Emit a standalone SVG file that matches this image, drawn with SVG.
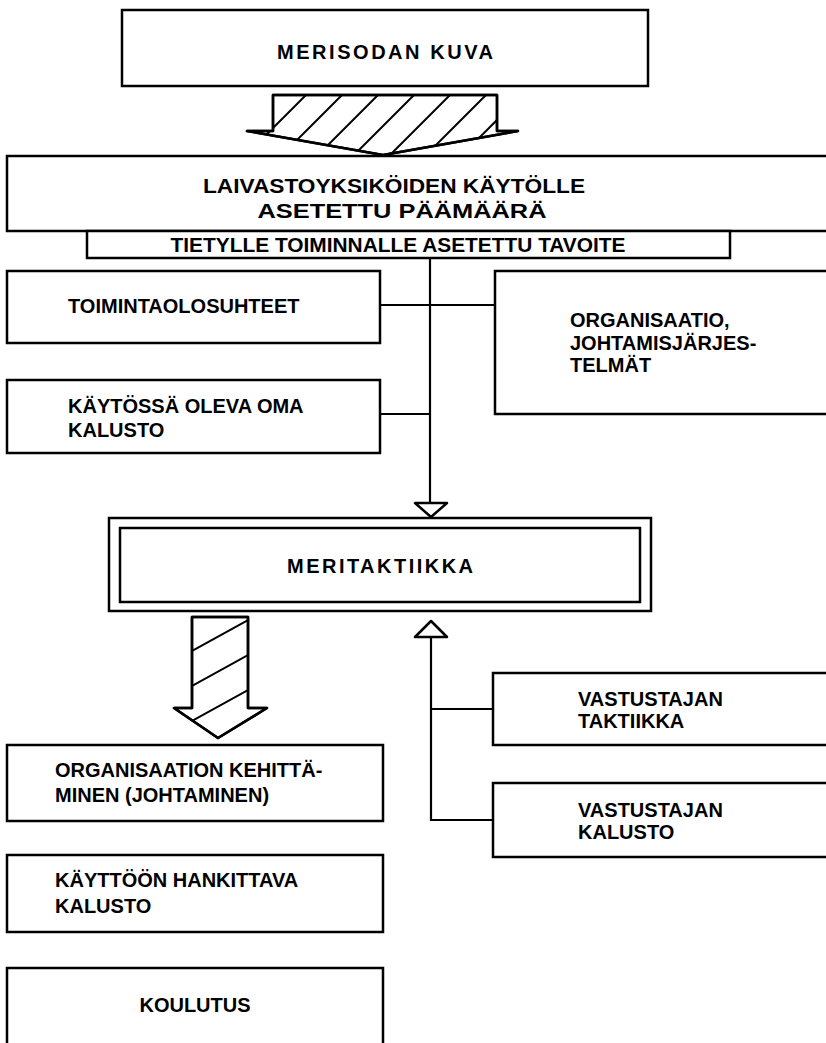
<svg xmlns="http://www.w3.org/2000/svg" width="826" height="1043" viewBox="0 0 826 1043">
<style>
.box{fill:#fff;stroke:#000;stroke-width:2.5}
.ln{fill:none;stroke:#000;stroke-width:2.2}
.t{font-family:"Liberation Sans",Arial,sans-serif;font-weight:bold;font-size:20px;fill:#000}
.c{text-anchor:middle}
.hatch{stroke:#000;stroke-width:2}
.arr{fill:#fff;stroke:#000;stroke-width:2.5;stroke-linejoin:round}
</style>
<defs>
<clipPath id="clipA1"><polygon points="273,95 497,95 497,131 518,131 383,155 247,131 273,131"/></clipPath>
<clipPath id="clipA2"><polygon points="192,617 248,617 248,708 267,708 218,738 174,708 192,708"/></clipPath>
</defs>
<rect width="826" height="1043" fill="#fff"/>

<g id="connectors">
<line class="ln" x1="430" y1="258" x2="430" y2="503"/>
<polygon class="arr" points="415,503 447,503 431,517"/>
<line class="ln" x1="380" y1="305" x2="495" y2="305"/>
<line class="ln" x1="380" y1="414" x2="430" y2="414"/>
<line class="ln" x1="431" y1="637" x2="431" y2="821"/>
<polygon class="arr" points="415,637 447,637 431,621"/>
<line class="ln" x1="431" y1="709" x2="493" y2="709"/>
<line class="ln" x1="431" y1="820" x2="493" y2="820"/>
<g id="hatched-arrow-1">
<polygon class="arr" points="273,95 497,95 497,131 518,131 383,155 247,131 273,131"/>
<g clip-path="url(#clipA1)">
<line class="hatch" x1="200" y1="165" x2="275" y2="90"/>
<line class="hatch" x1="236" y1="165" x2="311" y2="90"/>
<line class="hatch" x1="272" y1="165" x2="347" y2="90"/>
<line class="hatch" x1="308" y1="165" x2="383" y2="90"/>
<line class="hatch" x1="344" y1="165" x2="419" y2="90"/>
<line class="hatch" x1="380" y1="165" x2="455" y2="90"/>
<line class="hatch" x1="416" y1="165" x2="491" y2="90"/>
<line class="hatch" x1="452" y1="165" x2="527" y2="90"/>
<line class="hatch" x1="488" y1="165" x2="563" y2="90"/>
</g>
<polygon points="273,95 497,95 497,131 518,131 383,155 247,131 273,131" fill="none" stroke="#000" stroke-width="2.5" stroke-linejoin="round"/>
</g>
<g id="hatched-arrow-2">
<polygon class="arr" points="192,617 248,617 248,708 267,708 218,738 174,708 192,708"/>
<g clip-path="url(#clipA2)">
<line class="hatch" x1="170" y1="628" x2="270" y2="573"/>
<line class="hatch" x1="170" y1="663" x2="270" y2="608"/>
<line class="hatch" x1="170" y1="698" x2="270" y2="643"/>
<line class="hatch" x1="170" y1="733" x2="270" y2="678"/>
<line class="hatch" x1="170" y1="768" x2="270" y2="713"/>
<line class="hatch" x1="170" y1="803" x2="270" y2="748"/>
</g>
<polygon points="192,617 248,617 248,708 267,708 218,738 174,708 192,708" fill="none" stroke="#000" stroke-width="2.5" stroke-linejoin="round"/>
</g>
</g>

<g id="merisodan-kuva">
<rect class="box" x="122" y="10" width="526" height="76"/>
<text class="t c" x="385" y="59" textLength="216" lengthAdjust="spacing">MERISODAN KUVA</text>
</g>

<g id="laivastoyksikoiden">
<rect class="box" x="7" y="156" width="840" height="75"/>
<text class="t c" x="394" y="193" textLength="382" lengthAdjust="spacingAndGlyphs">LAIVASTOYKSIKÖIDEN KÄYTÖLLE</text>
<text class="t c" x="402" y="218" textLength="289" lengthAdjust="spacingAndGlyphs">ASETETTU PÄÄMÄÄRÄ</text>
</g>

<g id="tietylle">
<rect class="box" x="87" y="231" width="643" height="27"/>
<text class="t c" x="398" y="252" textLength="455" lengthAdjust="spacingAndGlyphs">TIETYLLE TOIMINNALLE ASETETTU TAVOITE</text>
</g>

<g id="toimintaolosuhteet">
<rect class="box" x="7" y="271" width="373" height="72"/>
<text class="t" x="68" y="313">TOIMINTAOLOSUHTEET</text>
</g>

<g id="kaytossa">
<rect class="box" x="7" y="380" width="373" height="73"/>
<text class="t" x="68" y="413">KÄYTÖSSÄ OLEVA OMA</text>
<text class="t" x="68" y="437">KALUSTO</text>
</g>

<g id="organisaatio">
<rect class="box" x="495" y="271" width="360" height="143"/>
<text class="t" x="570" y="327">ORGANISAATIO,</text>
<text class="t" x="570" y="350">JOHTAMISJÄRJES-</text>
<text class="t" x="570" y="372">TELMÄT</text>
</g>

<g id="meritaktiikka">
<rect class="box" x="109" y="518" width="542" height="93"/>
<rect class="box" x="120" y="528" width="520" height="74"/>
<text class="t c" x="380" y="573" textLength="186" lengthAdjust="spacing">MERITAKTIIKKA</text>
</g>

<g id="vastustajan-taktiikka">
<rect class="box" x="493" y="673" width="360" height="72"/>
<text class="t" x="578" y="706">VASTUSTAJAN</text>
<text class="t" x="578" y="728">TAKTIIKKA</text>
</g>

<g id="vastustajan-kalusto">
<rect class="box" x="493" y="783" width="360" height="74"/>
<text class="t" x="578" y="817">VASTUSTAJAN</text>
<text class="t" x="578" y="839">KALUSTO</text>
</g>

<g id="organisaation-kehittaminen">
<rect class="box" x="7" y="745" width="376" height="76"/>
<text class="t" x="55" y="777">ORGANISAATION KEHITTÄ-</text>
<text class="t" x="55" y="802">MINEN (JOHTAMINEN)</text>
</g>

<g id="kayttoon">
<rect class="box" x="7" y="855" width="376" height="77"/>
<text class="t" x="55" y="887">KÄYTTÖÖN HANKITTAVA</text>
<text class="t" x="55" y="913">KALUSTO</text>
</g>

<g id="koulutus">
<rect class="box" x="7" y="968" width="376" height="90"/>
<text class="t c" x="195" y="1012">KOULUTUS</text>
</g>
</svg>
